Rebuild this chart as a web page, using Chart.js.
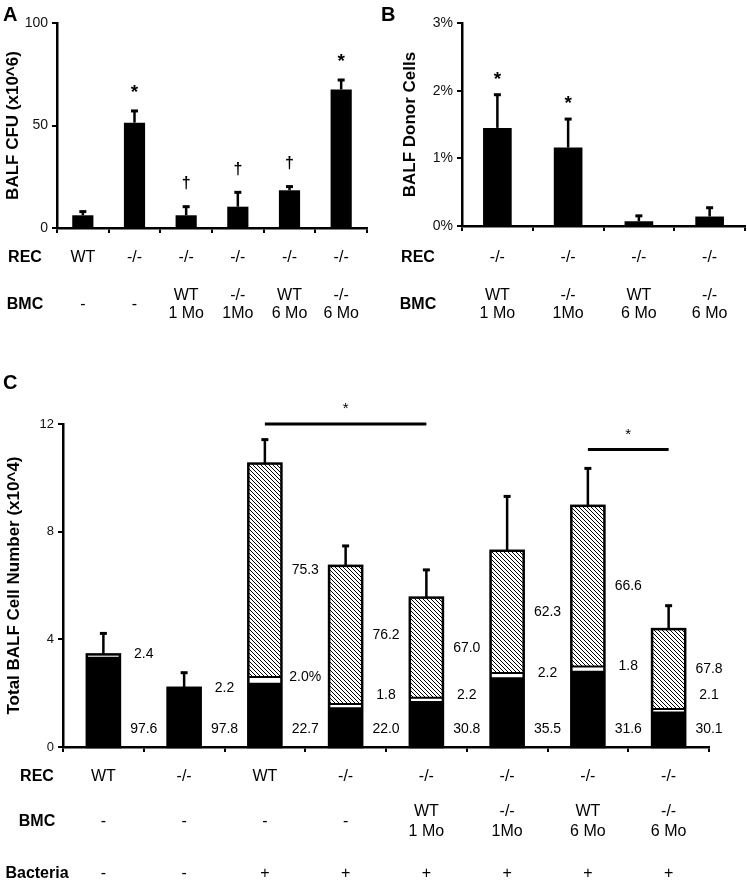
<!DOCTYPE html>
<html lang="en">
<head>
  <meta charset="UTF-8">
  <title>BALF panels</title>
  <script src="https://cdn.jsdelivr.net/npm/chart.js"></script>
  <style>
    body { margin: 0; background: #fff; }
    #wrap { position: relative; width: 747px; height: 881px; }
    canvas { position: absolute; }
    #cA { left: 0; top: 0; }
    #cB { left: 375px; top: 0; }
    #cC { left: 0; top: 360px; }
  </style>
</head>
<body>
<div id="wrap">
  <canvas id="cA" width="375" height="340"></canvas>
  <canvas id="cB" width="372" height="340"></canvas>
  <canvas id="cC" width="747" height="521"></canvas>
</div>
<script>
  // panel A - BALF CFU
  var recA = ['WT', '-/-', '-/-', '-/-', '-/-', '-/-'];
  var bmcA = ['-', '-', 'WT\n1 Mo', '-/-\n1Mo', 'WT\n6 Mo', '-/-\n6 Mo'];
  var cfuA = [6.2, 51.4, 6.2, 10.4, 18.4, 67.6];
  var cfuErrA = [1.8, 5.7, 4.2, 7.0, 1.8, 4.6];
  var markA = ['', '*', '\u2020', '\u2020', '\u2020', '*'];

  // panel B - donor cells (%)
  var recB = ['-/-', '-/-', '-/-', '-/-'];
  var bmcB = ['WT\n1 Mo', '-/-\n1Mo', 'WT\n6 Mo', '-/-\n6 Mo'];
  var donorB = [1.45, 1.16, 0.07, 0.14];
  var donorErrB = [0.49, 0.42, 0.08, 0.13];
  var markB = ['*', '*', '', ''];

  // panel C - total cells, split by cell type (%)
  var recC = ['WT', '-/-', 'WT', '-/-', '-/-', '-/-', '-/-', '-/-'];
  var bmcC = ['-', '-', '-', '-', 'WT\n1 Mo', '-/-\n1Mo', 'WT\n6 Mo', '-/-\n6 Mo'];
  var bacC = ['-', '-', '+', '+', '+', '+', '+', '+'];
  var totalC = [3.44, 2.20, 10.53, 6.73, 5.55, 7.29, 8.96, 4.38];
  var totalErrC = [0.78, 0.56, 0.89, 0.74, 1.03, 2.02, 1.39, 0.87];
  var blackPct = [97.6, 97.8, 22.7, 22.0, 30.8, 35.5, 31.6, 30.1];
  var whitePct = [2.4, 2.2, 2.0, 1.8, 2.2, 2.2, 1.8, 2.1];
  var hatchPct = [0, 0, 75.3, 76.2, 67.0, 62.3, 66.6, 67.8];
  var whiteText = ['2.4', '2.2', '2.0%', '1.8', '2.2', '2.2', '1.8', '2.1'];
  var sigC = [{ from: 2, to: 4, level: 12 }, { from: 6, to: 7, level: 11.05 }];

  var FONT = "'Liberation Sans', Arial, sans-serif";

  function txt(ctx, s, x, y, font, align) {
    ctx.font = font;
    ctx.textAlign = align || 'center';
    ctx.textBaseline = 'middle';
    ctx.fillStyle = '#000';
    ctx.fillText(s, x, y);
  }

  function yAxis(max, step, width, fmt, size) {
    return {
      min: 0, max: max,
      border: { color: '#000', width: 2.5 },
      grid: { drawOnChartArea: false, drawTicks: true, tickLength: 5, color: '#000', lineWidth: 2 },
      ticks: { stepSize: step, color: '#111', padding: 4, font: { family: FONT, size: size }, callback: fmt },
      afterFit: function (s) { s.width = width; }
    };
  }
  function xAxis(height) {
    return {
      stacked: true,
      border: { color: '#000', width: 2.5 },
      grid: { drawOnChartArea: false, drawTicks: true, tickLength: 5, color: '#000', lineWidth: 2, offset: true },
      ticks: { display: false },
      afterFit: function (s) { s.height = height; }
    };
  }

  // error bars, markers, row labels, y title and panel letter
  var extras = {
    id: 'extras',
    afterDraw: function (chart, args, o) {
      var ctx = chart.ctx, xs = chart.scales.x, ys = chart.scales.y;
      var meta = chart.getDatasetMeta(0);
      var base = ys.getPixelForValue(0);
      ctx.save();
      ctx.strokeStyle = '#000';
      o.tops.forEach(function (v, i) {
        var cx = meta.data[i].x;
        var yTop = ys.getPixelForValue(v);
        var yErr = ys.getPixelForValue(v + o.errors[i]);
        ctx.lineWidth = 2.5;
        ctx.beginPath(); ctx.moveTo(cx, yTop); ctx.lineTo(cx, yErr); ctx.stroke();
        ctx.lineWidth = 3;
        ctx.beginPath(); ctx.moveTo(cx - 3.5, yErr); ctx.lineTo(cx + 3.5, yErr); ctx.stroke();
        var m = o.markers ? o.markers[i] : '';
        if (m === '*') txt(ctx, m, cx, yErr - o.starGap, 'bold 19px ' + FONT);
        else if (m) txt(ctx, m, cx, yErr - o.daggerGap, 'bold 16px ' + FONT);
      });
      o.rows.forEach(function (r) {
        var yy = base + r.dy;
        txt(ctx, r.label, o.rowLabelX, yy, 'bold 16px ' + FONT);
        r.values.forEach(function (t, i) {
          var cx = xs.getPixelForValue(i);
          var lines = t.split('\n');
          lines.forEach(function (ln, k) {
            txt(ctx, ln, cx, yy + (k - (lines.length - 1) / 2) * o.lineGap, '16px ' + FONT);
          });
        });
      });
      ctx.save();
      ctx.translate(o.titleX, (chart.chartArea.top + chart.chartArea.bottom) / 2);
      ctx.rotate(-Math.PI / 2);
      txt(ctx, o.title, 0, 0, 'bold 17px ' + FONT);
      ctx.restore();
      txt(ctx, o.letter, o.letterX, o.letterY, 'bold 20px ' + FONT, 'left');
      ctx.restore();
    }
  };

  // outlines, hatch edge, percentages and significance lines for panel C
  var stackExtras = {
    id: 'stackExtras',
    afterDatasetsDraw: function (chart) {
      var ctx = chart.ctx, ys = chart.scales.y, area = chart.chartArea;
      var meta = chart.getDatasetMeta(0);
      var base = ys.getPixelForValue(0);
      var step = (area.right - area.left) / totalC.length;
      ctx.save();
      ctx.strokeStyle = '#000';
      totalC.forEach(function (t, i) {
        var bar = meta.data[i];
        var top = ys.getPixelForValue(t);
        var lower = t * (blackPct[i] + whitePct[i]) / 100;
        ctx.lineWidth = 2.5;
        ctx.strokeRect(bar.x - bar.width / 2, top, bar.width, base - top);
        if (hatchPct[i] > 0) {
          var yl = ys.getPixelForValue(lower);
          ctx.lineWidth = 2;
          ctx.beginPath(); ctx.moveTo(bar.x - bar.width / 2, yl); ctx.lineTo(bar.x + bar.width / 2, yl); ctx.stroke();
        }
        var lx = bar.x + step / 2;
        txt(ctx, blackPct[i].toFixed(1), lx, base - 18, '14px ' + FONT);
        txt(ctx, whiteText[i], lx, Math.min(ys.getPixelForValue(lower), base - 52), '14px ' + FONT);
        if (hatchPct[i] > 0) {
          txt(ctx, hatchPct[i].toFixed(1), lx, ys.getPixelForValue(lower + t * hatchPct[i] / 200), '14px ' + FONT);
        }
      });
      sigC.forEach(function (s) {
        var x1 = meta.data[s.from].x, x2 = meta.data[s.to].x;
        var yy = ys.getPixelForValue(s.level);
        ctx.lineWidth = 3;
        ctx.beginPath(); ctx.moveTo(x1, yy); ctx.lineTo(x2, yy); ctx.stroke();
        txt(ctx, '*', (x1 + x2) / 2, yy - 15, '15px ' + FONT);
      });
      ctx.restore();
    }
  };

  function hatchPattern() {
    var c = document.createElement('canvas');
    c.width = 4; c.height = 4;
    var g = c.getContext('2d');
    g.fillStyle = '#fff';
    g.fillRect(0, 0, 4, 4);
    g.strokeStyle = '#000';
    g.lineWidth = 1;
    g.beginPath();
    g.moveTo(0, 0); g.lineTo(4, 4);
    g.moveTo(-1, 3); g.lineTo(1, 5);
    g.moveTo(3, -1); g.lineTo(5, 1);
    g.stroke();
    return g.createPattern(c, 'repeat');
  }

  new Chart(document.getElementById('cA'), {
    type: 'bar',
    data: {
      labels: recA,
      datasets: [{ data: cfuA, backgroundColor: '#000', barPercentage: 0.41, categoryPercentage: 1 }]
    },
    options: {
      responsive: false, animation: false,
      layout: { padding: { left: 0, right: 8, top: 23, bottom: 0 } },
      plugins: {
        legend: { display: false }, tooltip: { enabled: false },
        extras: {
          tops: cfuA, errors: cfuErrA, markers: markA, starGap: 18, daggerGap: 23,
          rows: [{ label: 'REC', values: recA, dy: 30 }, { label: 'BMC', values: bmcA, dy: 77 }],
          rowLabelX: 25, lineGap: 18,
          title: 'BALF CFU (x10^6)', titleX: 13, letter: 'A', letterX: 3, letterY: 15
        }
      },
      scales: { x: xAxis(112), y: yAxis(100, 50, 57, function (v) { return v; }, 14) }
    },
    plugins: [extras]
  });

  new Chart(document.getElementById('cB'), {
    type: 'bar',
    data: {
      labels: recB,
      datasets: [{ data: donorB, backgroundColor: '#000', barPercentage: 0.405, categoryPercentage: 1 }]
    },
    options: {
      responsive: false, animation: false,
      layout: { padding: { left: 0, right: 2, top: 23, bottom: 0 } },
      plugins: {
        legend: { display: false }, tooltip: { enabled: false },
        extras: {
          tops: donorB, errors: donorErrB, markers: markB, starGap: 15, daggerGap: 22,
          rows: [{ label: 'REC', values: recB, dy: 32 }, { label: 'BMC', values: bmcB, dy: 79 }],
          rowLabelX: 43, lineGap: 18,
          title: 'BALF Donor Cells', titleX: 35, letter: 'B', letterX: 6, letterY: 15
        }
      },
      scales: { x: xAxis(114), y: yAxis(3, 1, 87, function (v) { return v + '%'; }, 14) }
    },
    plugins: [extras]
  });

  var hatch = hatchPattern();
  new Chart(document.getElementById('cC'), {
    type: 'bar',
    data: {
      labels: recC,
      datasets: [
        { data: totalC.map(function (t, i) { return t * blackPct[i] / 100; }), backgroundColor: '#000' },
        { data: totalC.map(function (t, i) { return t * whitePct[i] / 100; }), backgroundColor: '#fff' },
        { data: totalC.map(function (t, i) { return t * hatchPct[i] / 100; }), backgroundColor: hatch }
      ].map(function (d) { d.barPercentage = 0.41; d.categoryPercentage = 1; d.borderWidth = 0; return d; })
    },
    options: {
      responsive: false, animation: false,
      layout: { padding: { left: 0, right: 38, top: 64, bottom: 0 } },
      plugins: {
        legend: { display: false }, tooltip: { enabled: false },
        extras: {
          tops: totalC, errors: totalErrC, markers: null, starGap: 0, daggerGap: 0,
          rows: [
            { label: 'REC', values: recC, dy: 29.5 },
            { label: 'BMC', values: bmcC, dy: 75 },
            { label: 'Bacteria', values: bacC, dy: 127 }
          ],
          rowLabelX: 37, lineGap: 20,
          title: 'Total BALF Cell Number (x10^4)', titleX: 14, letter: 'C', letterX: 3, letterY: 23
        }
      },
      scales: { x: xAxis(134), y: Object.assign(yAxis(12, 4, 63, function (v) { return v; }, 13), { stacked: true }) }
    },
    plugins: [stackExtras, extras]
  });
</script>
</body>
</html>
